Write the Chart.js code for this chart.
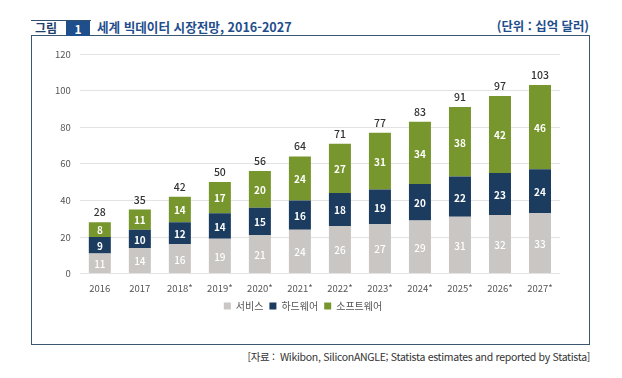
<!DOCTYPE html>
<html lang="ko">
<head>
<meta charset="utf-8">
<script src="https://cdn.jsdelivr.net/npm/chart.js@4"></script>
<style>
  html, body { margin: 0; padding: 0; background: #fff; }
  body { width: 622px; height: 378px; position: relative; overflow: hidden; font-family: "Noto Sans CJK KR", "Noto Sans", sans-serif; }
  #hdrBox { position: absolute; left: 31px; top: 20px; width: 60px; height: 15px; border-top: 1.5px solid #2f4f6f; }
  #hdrFig { position: absolute; left: 35px; top: 19px; font-size: 12px; font-weight: bold; color: #1f3f6b; line-height: 17px; }
  #hdrNum { position: absolute; left: 66px; top: 21px; width: 24px; height: 15px; background: #1f4e8c; color: #fff; font-size: 12px; font-weight: bold; text-align: center; line-height: 15px; }
  #hdrTitle { position: absolute; left: 97px; top: 18px; font-size: 12.6px; font-weight: bold; color: #1f4e8c; line-height: 17px; letter-spacing: 0px; }
  #hdrUnit { position: absolute; right: 33px; top: 18px; font-size: 12.4px; font-weight: bold; color: #1f4e8c; line-height: 17px; letter-spacing: 0px; }
  #frame { position: absolute; left: 31px; top: 35px; width: 557px; height: 308px; border: 1.5px solid #3a5670; box-sizing: content-box; }
  #chartWrap { position: absolute; left: 32px; top: 37px; width: 556px; height: 306px; }
  #src { position: absolute; right: 32px; top: 349px; font-size: 10.5px; color: #333; letter-spacing: -0.3px; }
</style>
</head>
<body>
<div id="frame"></div>
<div id="hdrBox"></div>
<div id="hdrFig">그림</div>
<div id="hdrNum">1</div>
<div id="hdrTitle">세계 빅데이터 시장전망, 2016-2027</div>
<div id="hdrUnit">(단위 : 십억 달러)</div>
<div id="chartWrap"><canvas id="c"></canvas></div>
<div id="src">[자료 :&nbsp; Wikibon, SiliconANGLE; Statista estimates and reported by Statista]</div>
<script>
const categories = ["2016", "2017", "2018*", "2019*", "2020*", "2021*", "2022*", "2023*", "2024*", "2025*", "2026*", "2027*"];
const services = [11, 14, 16, 19, 21, 24, 26, 27, 29, 31, 32, 33];
const hardware = [9, 10, 12, 14, 15, 16, 18, 19, 20, 22, 23, 24];
const software = [8, 11, 14, 17, 20, 24, 27, 31, 34, 38, 42, 46];
const totals = [28, 35, 42, 50, 56, 64, 71, 77, 83, 91, 97, 103];
const seriesNames = ["서비스", "하드웨어", "소프트웨어"];
const yTicks = [0, 20, 40, 60, 80, 100, 120];

const FONT = "'Noto Sans CJK KR', 'Noto Sans', sans-serif";

const labelPlugin = {
  id: 'stackLabels',
  afterDatasetsDraw(chart) {
    const ctx = chart.ctx;
    ctx.save();
    ctx.textAlign = 'center';
    ctx.textBaseline = 'middle';
    chart.data.datasets.forEach((ds, di) => {
      const meta = chart.getDatasetMeta(di);
      meta.data.forEach((el, i) => {
        const y = (el.y + el.base) / 2;
        ctx.fillStyle = '#ffffff';
        ctx.font = (di === 0 ? '500 ' : 'bold ') + '10px ' + FONT;
        ctx.fillText(String(ds.data[i]), el.x, y + 1);
      });
    });
    const top = chart.getDatasetMeta(chart.data.datasets.length - 1);
    top.data.forEach((el, i) => {
      ctx.fillStyle = '#333333';
      ctx.font = '500 10.5px ' + FONT;
      ctx.fillText(String(totals[i]), el.x, el.y - 10);
    });
    ctx.restore();
  }
};

new Chart(document.getElementById('c'), {
  type: 'bar',
  data: {
    labels: categories,
    datasets: [
      { label: seriesNames[0], data: services, backgroundColor: '#c9c6c3' },
      { label: seriesNames[1], data: hardware, backgroundColor: '#1b3b5f' },
      { label: seriesNames[2], data: software, backgroundColor: '#77962d' }
    ]
  },
  options: {
    responsive: true,
    maintainAspectRatio: false,
    animation: false,
    devicePixelRatio: 1,
    datasets: { bar: { barPercentage: 0.55, categoryPercentage: 1.0 } },
    layout: { padding: { top: 17, left: 14, right: 28, bottom: 22 } },
    scales: {
      x: {
        stacked: true,
        grid: { display: false },
        border: { display: false },
        ticks: { color: '#555', font: { family: FONT, size: 9.5 }, padding: 1, maxRotation: 0 }
      },
      y: {
        stacked: true,
        min: 0, max: 120,
        afterBuildTicks(scale) { scale.ticks = yTicks.map(v => ({ value: v })); },
        grid: { color: '#e3e3e3', lineWidth: 1, drawTicks: false },
        border: { display: false },
        ticks: { color: '#555', font: { family: FONT, size: 9.5 }, padding: 9 }
      }
    },
    plugins: {
      legend: {
        position: 'bottom',
        labels: { color: '#555', font: { family: FONT, size: 10 }, boxWidth: 7, boxHeight: 7, padding: 6 }
      },
      tooltip: { enabled: false }
    }
  },
  plugins: [labelPlugin]
});
</script>
</body>
</html>
